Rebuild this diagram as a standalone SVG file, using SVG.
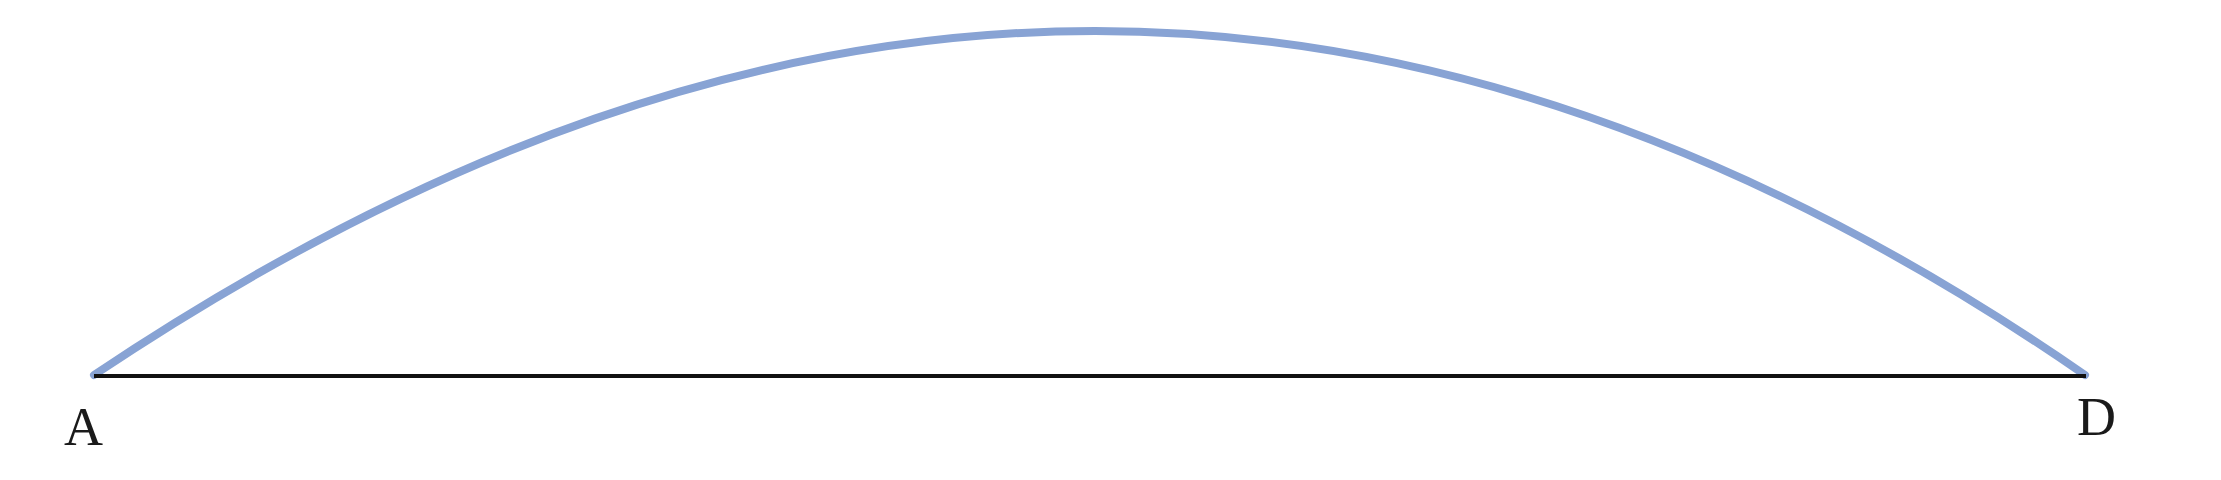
<svg xmlns="http://www.w3.org/2000/svg" width="2221" height="480" viewBox="0 0 2221 480">
<style>
.lbl{font-family:"Liberation Serif","DejaVu Serif",serif;font-size:54px;fill:#1a1a1a}
.arc{fill:none;stroke:#88a3d4;stroke-width:8;stroke-linecap:round}
.base{fill:none;stroke:#111;stroke-width:4}
</style>
<rect width="2221" height="480" fill="#fff"/>
<g id="connectors">
<path class="arc" d="M94,375 C430,150 760,31 1095,31 C1430,31 1760,150 2085,375"/>
<line class="base" x1="94" y1="376" x2="2086" y2="376"/>
</g>
<g id="node-A"><text class="lbl" x="64" y="445">A</text></g>
<g id="node-D"><text class="lbl" x="2077" y="435">D</text></g>
</svg>
